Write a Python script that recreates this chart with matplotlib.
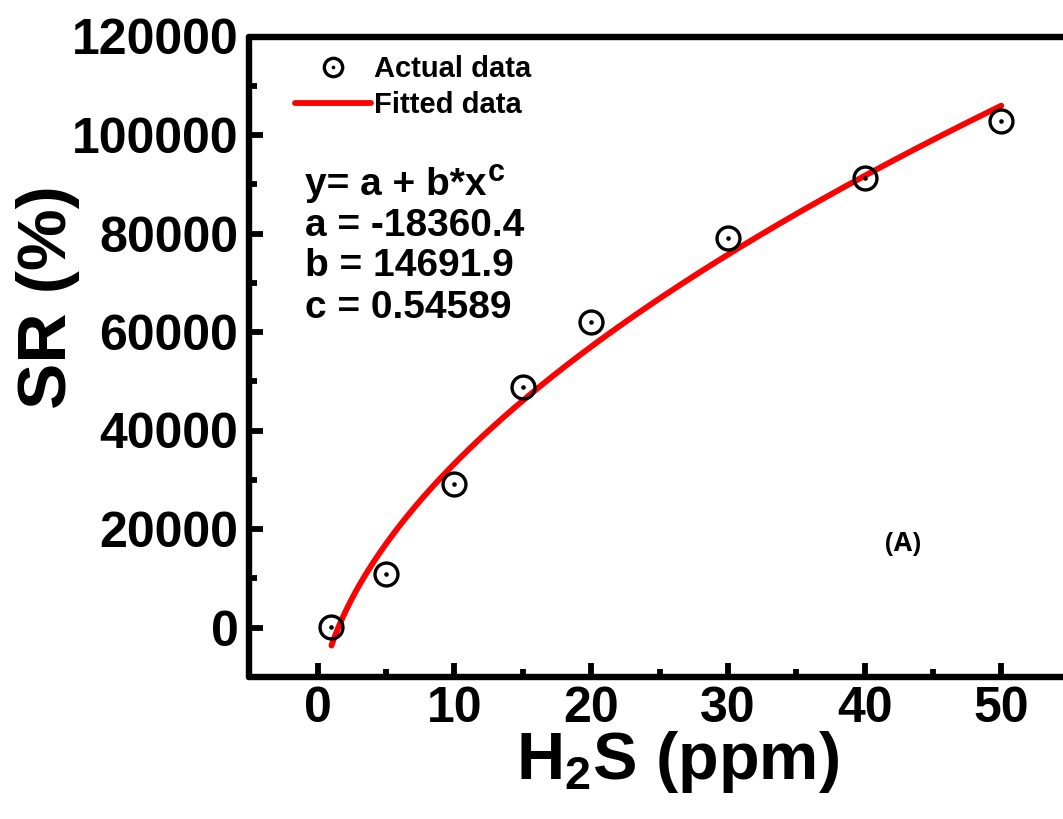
import numpy as np
import matplotlib
matplotlib.use("Agg")
import matplotlib.pyplot as plt
from matplotlib.legend_handler import HandlerTuple

plt.rcParams['font.family'] = ['Liberation Sans', 'DejaVu Sans']
plt.rcParams['font.weight'] = 'bold'
plt.rcParams['mathtext.fontset'] = 'custom'
plt.rcParams['mathtext.rm'] = 'Liberation Sans:bold'
plt.rcParams['mathtext.bf'] = 'Liberation Sans:bold'
plt.rcParams['mathtext.it'] = 'Liberation Sans:bold'

# ---- data ----
h2s_ppm = [1, 5, 10, 15, 20, 30, 40, 50]
sr_percent = [200, 10900, 29100, 48800, 62000, 79100, 91300, 102900]
fit_a = -18360.4
fit_b = 14691.9
fit_c = 0.54589
xticks = [0, 10, 20, 30, 40, 50]
yticks = [0, 20000, 40000, 60000, 80000, 100000, 120000]

W, H = 1063, 819
fig = plt.figure(figsize=(W / 100, H / 100), dpi=100)

def px2fig(x, y):
    return x / W, 1 - y / H

ax_l, ax_r = 249.4, 1069.6
ax_t, ax_b = 36.5, 676.75
ax = fig.add_axes([ax_l / W, 1 - ax_b / H, (ax_r - ax_l) / W, (ax_b - ax_t) / H])
ax.set_xlim(-5, 55)
ax.set_ylim(-10000, 120000)

xfit = np.linspace(min(h2s_ppm), max(h2s_ppm), 300)
yfit = fit_a + fit_b * xfit ** fit_c
line, = ax.plot(xfit, yfit, color='#ff0000', lw=4.2, solid_capstyle='round', zorder=2)

circ, = ax.plot(h2s_ppm, sr_percent, ls='none', marker='o', ms=16.5, mfc='none',
                mec='black', mew=2.4, zorder=3)
dot, = ax.plot(h2s_ppm, sr_percent, ls='none', marker='o', ms=3.3, mfc='black',
               mec='black', mew=0, zorder=3)

ax.set_xticks(xticks)
ax.set_yticks(yticks)
ax.set_xticks([5, 15, 25, 35, 45], minor=True)
ax.set_yticks([10000, 30000, 50000, 70000, 90000, 110000], minor=True)
ax.set_yticklabels([str(v) for v in yticks])

for s in ax.spines.values():
    s.set_linewidth(4.6)
    s.set_capstyle('round')
ax.spines['right'].set_visible(False)

ax.tick_params(which='major', direction='in', length=10, width=4.2, labelsize=36, pad=7)
ax.tick_params(which='minor', direction='in', length=6, width=4.2)
ax.tick_params(axis='y', which='major', pad=8)
for lab in ax.get_xticklabels() + ax.get_yticklabels():
    lab.set_fontweight('bold')

ax.set_xlabel(r'H$_{\mathbf{2}}$S (ppm)', fontsize=48, fontweight='bold')
ax.xaxis.set_label_coords((678 - ax_l) / (ax_r - ax_l), -(729 - ax_b) / (ax_b - ax_t))
ax.set_ylabel('SR (%)', fontsize=50, fontweight='bold')
ax.yaxis.set_label_coords(-(ax_l - 80) / (ax_r - ax_l), (ax_b - 297) / (ax_b - ax_t))

leg = ax.legend([(circ, dot), line], ['Actual data', 'Fitted data'],
                handler_map={tuple: HandlerTuple(ndivide=1)},
                loc='upper left',
                bbox_to_anchor=((295 - ax_l) / (ax_r - ax_l), (ax_b - 55) / (ax_b - ax_t)),
                frameon=False, borderpad=0, borderaxespad=0, handlelength=2.6,
                handletextpad=0.12, labelspacing=0.29, markerscale=0.8,
                prop={'family': 'Liberation Sans', 'weight': 'bold', 'size': 21})

fit_lines = ['y= a + b*x', 'a = -18360.4', 'b = 14691.9', 'c = 0.54589']
fit_y = [195, 236, 276, 318]
fig.canvas.draw()
renderer = fig.canvas.get_renderer()
for i, (t, yy) in enumerate(zip(fit_lines, fit_y)):
    fx, fy = px2fig(305, yy)
    txt = fig.text(fx, fy, t, fontsize=28, fontweight='bold', va='baseline', ha='left')
    if i == 0:
        bb = txt.get_window_extent(renderer)
        fig.text((bb.x1 + 1) / W, fy + 14 / H, 'c', fontsize=22, fontweight='bold',
                 va='baseline', ha='left')

fx, fy = px2fig(903, 543)
fig.text(fx, fy, '(A)', fontsize=19, fontweight='bold', family='Open Sans',
         ha='center', va='center')

fig.savefig('out.png', dpi=100)
